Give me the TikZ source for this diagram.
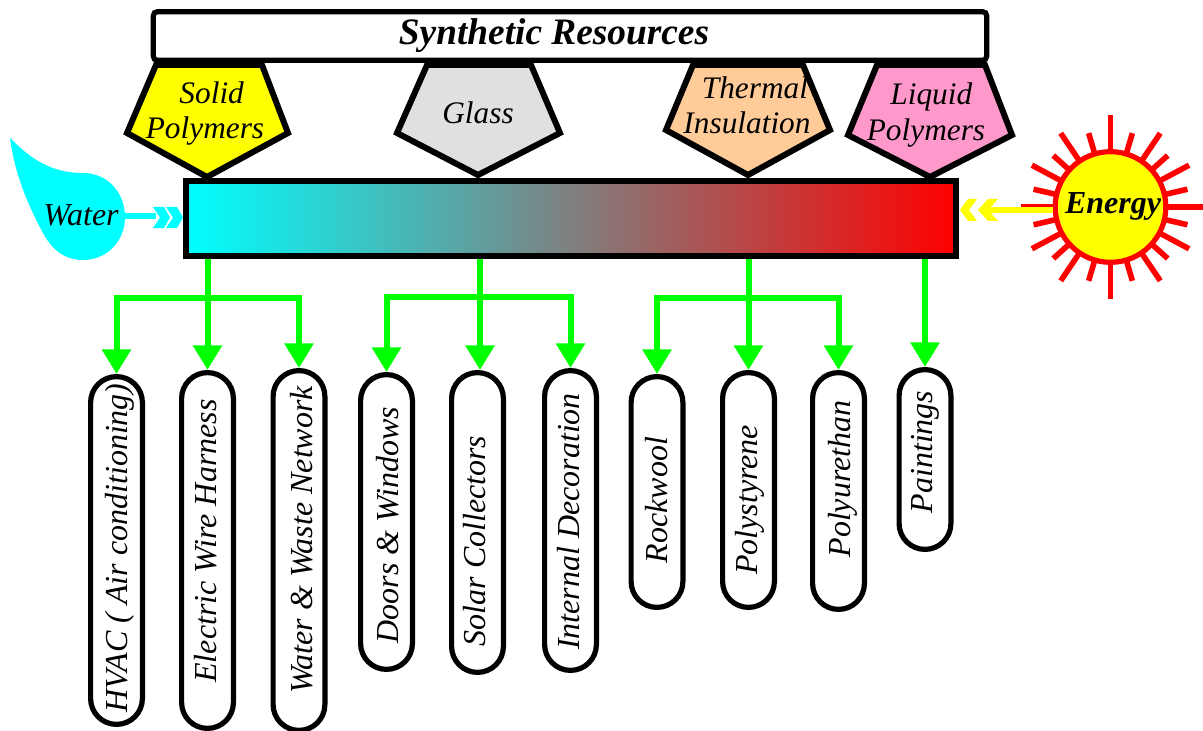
\documentclass[tikz,border=0pt]{standalone}
\usepackage{fontspec}
\setmainfont{Liberation Serif}
\usetikzlibrary{arrows.meta,calc}
\definecolor{gr}{RGB}{0,255,0}
\definecolor{cy}{RGB}{0,255,255}
\definecolor{rd}{RGB}{255,0,0}
\definecolor{yl}{RGB}{255,255,0}
\definecolor{glassc}{RGB}{224,224,224}
\definecolor{thermc}{RGB}{255,204,153}
\definecolor{liqc}{RGB}{255,153,204}
\newcommand{\fs}[1]{\fontsize{#1}{#1}\selectfont}
\tikzset{
  x=0.75pt,y=-0.75pt,
  pent/.style={draw=black,line width=4.5pt,line join=miter},
  lab/.style={inner sep=0pt,font=\fs{23.5}\itshape,align=center},
  pill/.style={draw=black,fill=white,line width=3.9pt,rounded corners=19.4pt,inner sep=0pt},
  vlab/.style={inner sep=0pt,font=\fs{24}\itshape,rotate=90,anchor=base},
  garrow/.style={draw=gr,line width=4.5pt,-{Triangle[length=18.5pt,width=21pt]}},
  gline/.style={draw=gr,line width=4.5pt},
  ray/.style={draw=rd,line width=4.2pt},
}
\newcommand{\pillnode}[4]{% name, xc, ytop, ybot
  \node[pill,minimum height={(#4-#3-5.2)*0.75pt},minimum width={(57-5.2)*0.75pt}] (#1) at (#2,{(#3+#4)/2}) {};}
\begin{document}
\begin{tikzpicture}
\useasboundingbox (0,0) rectangle (1203,731);
% top bar
\node[draw=black,fill=white,line width=3.9pt,rounded corners=3pt,minimum width=625pt,minimum height=36.5pt,inner sep=0pt] (top) at (570,36) {};
\node[inner sep=0pt,font=\fs{28}\bfseries\itshape] (toplab) at (554,36) {Synthetic Resources};
% pentagons
\draw[pent,fill=yl] (156,65)--(262,65)--(288,133)--(207,177)--(127,133)--cycle;
\draw[pent,fill=glassc] (427,65)--(531,65)--(560,133)--(478,175)--(397,133)--cycle;
\draw[pent,fill=thermc] (693,65)--(803,65)--(830,130)--(748,175)--(666,130)--cycle;
\draw[pent,fill=liqc] (877,65)--(985,65)--(1012,135)--(930,177)--(848,135)--cycle;
\node[lab] (solid) at (205,113.5) {\hspace*{10pt}Solid\\[3pt]Polymers};
\node[lab] (glass) at (478,113) {Glass};
\node[lab] (therm) at (747,105) {\hspace*{12pt}Thermal\\[3pt]Insulation};
\node[lab] (liquid) at (926,115) {\hspace*{8pt}Liquid\\[3pt]Polymers};
% water drop
\fill[cy] (10,138) .. controls (30,158) and (50,173) .. (83,173)
  .. controls (107,173) and (125,192) .. (125,217)
  .. controls (125,241) and (107,260) .. (83,260)
  .. controls (65,260) and (52,250) .. (43,233)
  .. controls (28,205) and (15,175) .. (10,138) -- cycle;
\node[inner sep=0pt,font=\fs{24}\itshape] (water) at (81,215) {Water};
% main bar
\node[draw=black,line width=4.2pt,left color=cy,right color=rd,minimum width=577.5pt,minimum height=56.25pt,inner sep=0pt] (bar) at (571,218.5) {};
% water arrow
\coordinate (wstart) at (125,216);
\coordinate (wend) at (156,216);
\draw[cy,line width=4.5pt] (wstart) -- (wend);
\fill[cy] (153,207)--(164,207)--(170,217.5)--(164,228)--(153,228)--(160,217.5)--cycle;
\fill[cy] (166,207)--(177,207)--(183,217.5)--(177,228)--(166,228)--(173,217.5)--cycle;
% sun
\foreach \a/\r in {90/92,73.5/77,56/89,42/77,28/89,13/79,0/93,-13/79,-28/89,-42/77,-56/89,-73.5/77,-90/92,
  106.5/77,124/89,138/77,152/89,167/79,193/79,208/89,222/77,236/89,253.5/77,180/90}
  \draw[ray] ({1110.5+50*cos(\a)},{207-50*sin(\a)}) -- ({1110.5+\r*cos(\a)},{207-\r*sin(\a)});
\node[circle,draw=rd,fill=yl,line width=3.9pt,minimum size=83pt,inner sep=0pt] (sun) at (1110.5,207) {};
\node[inner sep=0pt,font=\fs{24}\bfseries\itshape] (energy) at (1113,206) {Energy};
% energy arrow
\coordinate (eend) at (985,210);
\draw[yl,line width=4.5pt] (sun.west |- eend) -- (eend);
\fill[yl] (988,199)--(998,199)--(988,210)--(998,221)--(988,221)--(978,210)--cycle;
\fill[yl] (968,199)--(977,199)--(969,210)--(977,221)--(968,221)--(960,210)--cycle;
% pills
\pillnode{hv}{116.5}{374}{727}
\pillnode{el}{207.5}{370}{731}
\pillnode{ww}{299}{368}{733}
\pillnode{dw}{386.5}{372}{672}
\pillnode{sc}{477.5}{370}{675}
\pillnode{id}{570.5}{368}{673}
\pillnode{rw}{657}{374}{610}
\pillnode{ps}{748.5}{370}{610}
\pillnode{pu}{838.5}{370}{612}
\pillnode{pa}{925}{367}{552}
\node[vlab] (hvt) at (127,548) {HVAC ( Air conditioning)};
\node[vlab] (elt) at (216,541) {Electric Wire Harness};
\node[vlab] (wwt) at (312,540) {Water \& Waste Network};
\node[vlab] (dwt) at (398,525) {Doors \& Windows};
\node[vlab] (sct) at (485,541) {Solar Collectors};
\node[vlab] (idt) at (579,521.5) {Internal Decoration};
\node[vlab] (rwt) at (667,500) {Rockwool};
\node[vlab] (pst) at (757,500) {Polystyrene};
\node[vlab] (put) at (850,479) {Polyurethan};
\node[vlab] (pat) at (932,452) {Paintings};
% connectors
\coordinate (j1) at (207.5,298);
\coordinate (j2) at (480,297);
\coordinate (j3) at (748.5,298);
\draw[gline] (bar.south -| j1) -- (j1);
\draw[gline] (bar.south -| j2) -- (j2);
\draw[gline] (bar.south -| j3) -- (j3);
\draw[garrow] (j1) -- (el.north -| j1);
\draw[garrow] (j1) -| (hv.north);
\draw[garrow] (j1) -| (ww.north);
\draw[garrow] (j2) -- (sc.north -| j2);
\draw[garrow] (j2) -| (dw.north);
\draw[garrow] (j2) -| (id.north);
\draw[garrow] (j3) -- (ps.north -| j3);
\draw[garrow] (j3) -| (rw.north);
\draw[garrow] (j3) -| (pu.north);
\draw[garrow] (bar.south -| pa.north) -- (pa.north);
\end{tikzpicture}
\end{document}
